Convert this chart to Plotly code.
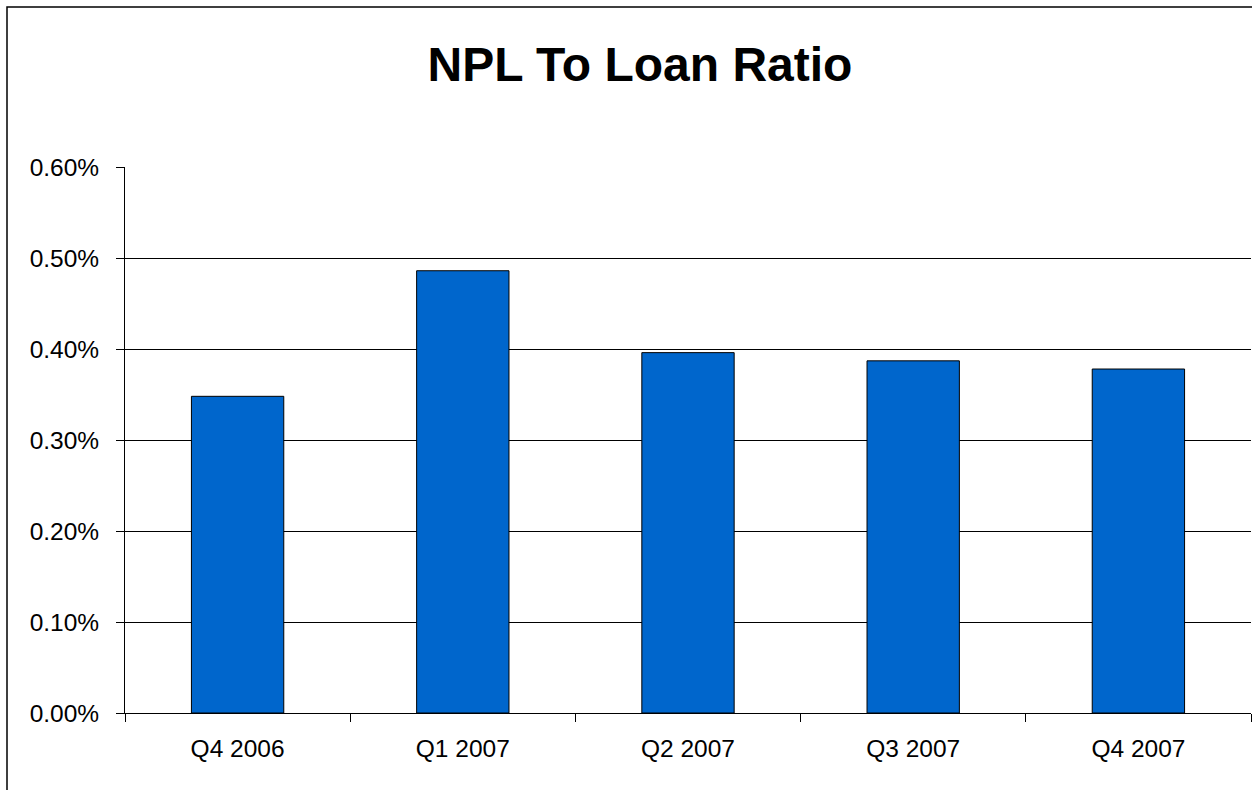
import plotly.graph_objects as go

categories = ["Q4 2006", "Q1 2007", "Q2 2007", "Q3 2007", "Q4 2007"]
npl_ratio = [0.348, 0.486, 0.396, 0.387, 0.378]  # percent
y_ticks = [0.0, 0.1, 0.2, 0.3, 0.4, 0.5, 0.6]
y_tick_labels = ["0.00%", "0.10%", "0.20%", "0.30%", "0.40%", "0.50%", "0.60%"]
grid_vals = [0.1, 0.2, 0.3, 0.4, 0.5]

FONT = "Liberation Sans, Arial, sans-serif"

fig = go.Figure()
fig.add_trace(go.Bar(
    x=categories, y=npl_ratio,
    marker=dict(color="#0066CC", line=dict(color="#000000", width=1)),
    hoverinfo="x+y",
))
# invisible helper trace for the grid axis
fig.add_trace(go.Scatter(x=[categories[0]], y=[0], yaxis="y2", mode="markers",
                         marker=dict(opacity=0), showlegend=False, hoverinfo="skip"))

fig.update_layout(
    width=1252, height=790,
    margin=dict(l=125, r=1, t=167, b=77),
    paper_bgcolor="white", plot_bgcolor="white",
    showlegend=False,
    bargap=0.59,
    title=dict(text="<b>NPL To Loan Ratio</b>", x=640/1252, xanchor="center",
               xref="paper" if False else "container",
               yref="container", y=1 - 64/790, yanchor="middle",
               font=dict(family=FONT, size=48, color="black")),
    font=dict(family=FONT, color="black"),
    xaxis=dict(
        type="category", tickson="boundaries", ticks="outside", ticklen=8,
        tickcolor="#000000", tickwidth=1,
        showline=True, linecolor="#000000", linewidth=1,
        showgrid=False, tickfont=dict(family=FONT, size=24.5, color="black"),
        ticklabelstandoff=14,
    ),
    yaxis=dict(
        range=[0, 0.6], tickvals=y_ticks, ticktext=y_tick_labels,
        ticks="outside", ticklen=8, tickcolor="#000000", tickwidth=1,
        showline=True, linecolor="#000000", linewidth=1,
        showgrid=False, zeroline=False,
        tickfont=dict(family=FONT, size=24.5, color="black"),
        ticklabelstandoff=12,
    ),
    yaxis2=dict(
        overlaying="y", range=[0, 0.6], tickvals=grid_vals,
        showticklabels=False, ticks="", showgrid=True, gridcolor="#000000",
        gridwidth=1, zeroline=False, showline=False,
    ),
    shapes=[dict(type="rect", xref="paper", yref="paper",
                 x0=(7 - 125) / 1126, x1=1.2, y0=-0.3, y1=(713 - 7) / 546,
                 line=dict(color="#000000", width=1.5), fillcolor="rgba(0,0,0,0)",
                 layer="below")],
)

fig.write_html("out.html")
